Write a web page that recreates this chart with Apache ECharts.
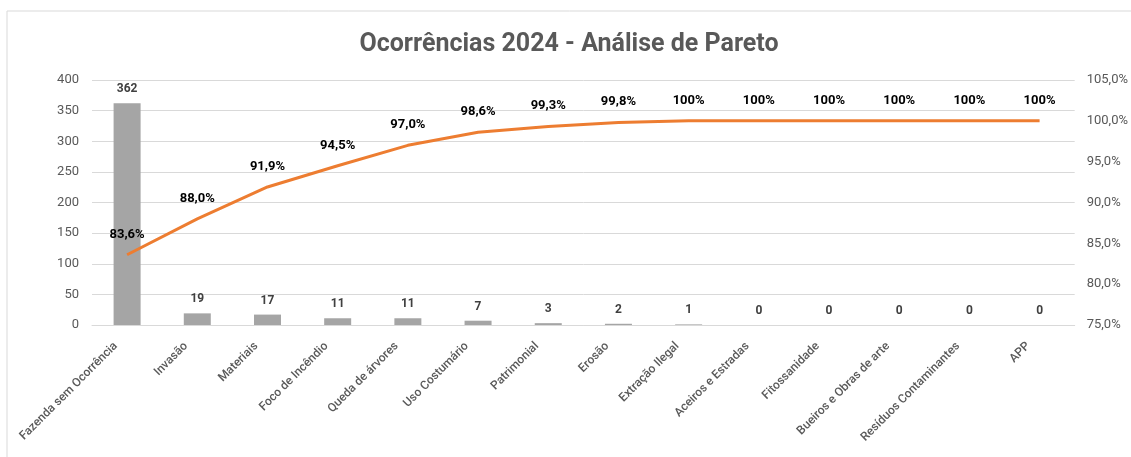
<!DOCTYPE html>
<html lang="pt">
<head>
    <meta charset="UTF-8">
    <title>Ocorrências 2024 - Análise de Pareto</title>
    <script src="https://cdn.jsdelivr.net/npm/echarts@6/dist/echarts.min.js"></script>
    <style>
        body { margin: 0; background: #fff; }
    </style>
</head>
<body>
    <div id="main" style="width: 1131px; height: 457px;"></div>
    <script type="text/javascript">
        // dados do gráfico
        var categorias = ['Fazenda sem Ocorrência', 'Invasão', 'Materiais', 'Foco de Incêndio', 'Queda de árvores',
            'Uso Costumário', 'Patrimonial', 'Erosão', 'Extração Ilegal', 'Aceiros e Estradas', 'Fitossanidade',
            'Bueiros e Obras de arte', 'Resíduos Contaminantes', 'APP'];
        var ocorrencias = [362, 19, 17, 11, 11, 7, 3, 2, 1, 0, 0, 0, 0, 0];
        var acumulado = [83.6, 88.0, 91.9, 94.5, 97.0, 98.6, 99.3, 99.8, 100, 100, 100, 100, 100, 100];

        var myChart = echarts.init(document.getElementById('main'));

        function pct(v, casas) {
            return v.toFixed(casas).replace('.', ',') + '%';
        }

        option = {
            backgroundColor: '#fff',
            animation: false,
            title: {
                text: 'Ocorrências 2024 - Análise de Pareto',
                left: 564, top: 27, textAlign: 'center',
                textStyle: { fontFamily: 'Roboto', fontSize: 25, fontWeight: 'bold', color: '#595959' }
            },
            graphic: [{
                type: 'rect', silent: true, z: -1,
                shape: { x: 7, y: 11, width: 1200, height: 500 },
                style: { fill: 'none', stroke: '#d9d9d9', lineWidth: 1 }
            }],
            grid: { left: 92, right: 51, top: 80, bottom: 132 },
            xAxis: {
                type: 'category',
                data: categorias,
                axisTick: { show: false },
                axisLine: { lineStyle: { color: '#d9d9d9' } },
                axisLabel: {
                    interval: 0, rotate: 45, margin: 8, padding: [0, 16, 0, 0],
                    fontFamily: 'Roboto', fontSize: 12, fontWeight: 500, color: '#595959'
                }
            },
            yAxis: [{
                type: 'value', min: 0, max: 400, interval: 50,
                axisLine: { show: false }, axisTick: { show: false },
                splitLine: { lineStyle: { color: '#d9d9d9' } },
                axisLabel: { margin: 13, fontFamily: 'Roboto', fontSize: 13, color: '#595959' }
            }, {
                type: 'value', min: 75, max: 105, interval: 5,
                axisLine: { show: false }, axisTick: { show: false },
                splitLine: { show: false },
                axisLabel: {
                    margin: 12, fontFamily: 'Roboto', fontSize: 13, color: '#595959',
                    formatter: function (v) { return pct(v, 1); }
                }
            }],
            series: [{
                name: 'Ocorrências', type: 'bar', yAxisIndex: 0,
                data: ocorrencias,
                barWidth: 27,
                itemStyle: { color: '#a5a5a5' },
                label: {
                    show: true, position: 'top', distance: 8,
                    fontFamily: 'Roboto', fontSize: 12, fontWeight: 'bold', color: '#404040'
                }
            }, {
                name: 'Acumulado', type: 'line', yAxisIndex: 1,
                data: acumulado,
                symbol: 'circle', symbolSize: 2, showSymbol: true,
                lineStyle: { color: '#ed7d31', width: 3 },
                itemStyle: { color: 'rgba(237,125,49,0)' },
                label: {
                    show: true, position: 'top', distance: 13,
                    fontFamily: 'Roboto', fontSize: 13, fontWeight: 'bold', color: '#000',
                    formatter: function (p) { return p.value === 100 ? '100%' : pct(p.value, 1); }
                },
                labelLayout: { hideOverlap: false }
            }]
        };
        myChart.setOption(option);
    </script>
</body>
</html>
